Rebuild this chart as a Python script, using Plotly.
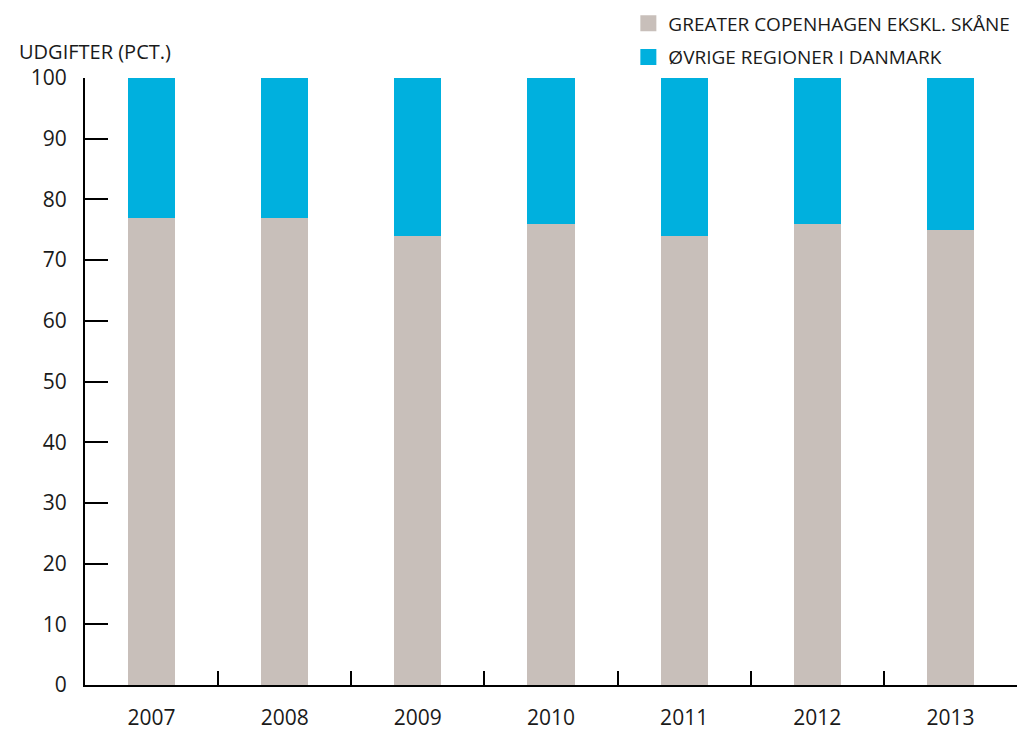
import plotly.graph_objects as go

# Expenditure share by region, percent
years = ["2007", "2008", "2009", "2010", "2011", "2012", "2013"]
greater_cph = [77, 77, 74, 76, 74, 76, 75]
other_regions = [23, 23, 26, 24, 26, 24, 25]

series_names = ["GREATER COPENHAGEN EKSKL. SKÅNE", "ØVRIGE REGIONER I DANMARK"]
colors = ["#C8BFBA", "#00B0DE"]
y_ticks = [0, 10, 20, 30, 40, 50, 60, 70, 80, 90, 100]

FONT = "Open Sans"
TXT = "#1a1a1a"

fig = go.Figure()
for name, vals, col in zip(series_names, [greater_cph, other_regions], colors):
    fig.add_trace(go.Bar(x=years, y=vals, name=name, marker=dict(color=col, line=dict(width=0)),
                         width=0.355, showlegend=False))

# legend entries with larger square swatches, one group each for row spacing
for i, (name, col) in enumerate(zip(series_names, colors)):
    fig.add_trace(go.Scatter(x=[None], y=[None], mode="markers", name=name, legendgroup=f"g{i}",
                             marker=dict(symbol="square", size=16, color=col)))

fig.update_layout(
    barmode="stack",
    width=1026, height=730,
    margin=dict(l=85, r=9, t=78, b=45, autoexpand=False),
    paper_bgcolor="white", plot_bgcolor="white",
    font=dict(family=FONT, size=21, color=TXT),
    showlegend=True,
    legend=dict(x=0.583, y=0.994, xref="paper", yref="container", xanchor="left", yanchor="top",
                traceorder="grouped", tracegroupgap=6,
                font=dict(family=FONT, size=19, color=TXT),
                bgcolor="rgba(0,0,0,0)", itemwidth=30),
    xaxis=dict(type="category", showline=True, linecolor="black", linewidth=2,
               ticks="inside", tickson="boundaries", ticklen=14, tickwidth=2, tickcolor="black",
               showgrid=False, zeroline=False, ticklabelstandoff=13,
               tickfont=dict(family=FONT, size=21), range=[-0.5, 6.5]),
    yaxis=dict(range=[0, 100], tickvals=y_ticks, showline=True, linecolor="black", linewidth=2,
               ticks="inside", ticklen=23, tickwidth=2, tickcolor="black",
               showgrid=False, zeroline=False, ticklabelstandoff=12,
               tickfont=dict(family=FONT, size=21)),
    annotations=[dict(text="UDGIFTER (PCT.)", xref="paper", yref="paper",
                      x=(17 - 85) / 932, y=(685 - 51) / 607, xanchor="left", yanchor="middle",
                      showarrow=False, font=dict(family=FONT, size=20, color=TXT))],
)

fig.write_html("out.html")
